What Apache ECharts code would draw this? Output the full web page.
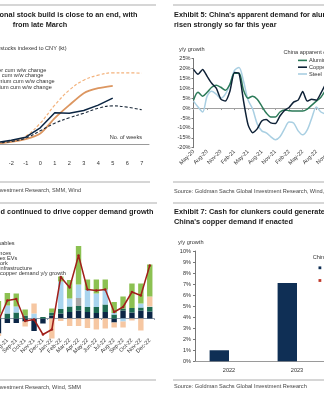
<!DOCTYPE html>
<html>
<head>
<meta charset="utf-8">
<script src="https://cdn.jsdelivr.net/npm/echarts@6/dist/echarts.min.js"></script>
<style>
html,body{margin:0;padding:0;background:#fff;}
#chart{width:324px;height:394px;}
</style>
</head>
<body>
<div id="chart"></div>
<script>
// ---------- Exhibit 4 : cumulative w/w stock change since CNY (kt) ----------
const weeks = ['-3','-2','-1','0','1','2','3','4','5','6','7'];
const cuCum2023 = [6, 13, 22, 50, 95, 94, 102, 118, 139, null, null];
const cuCumAvg  = [4, 9, 19, 41, 64, 80, 94, 109, 116, 112, 104];
const alCum2023 = [3, 8, 16, 33, 79, 118, 154, 169, 176, null, null];
const alCumAvg  = [4, 10, 25, 64, 118, 163, 193, 208, 215, 215, 214];

// ---------- Exhibit 5 : China apparent demand y/y ----------
const months5 = ['May-20','Jun-20','Jul-20','Aug-20','Sep-20','Oct-20','Nov-20','Dec-20','Jan-21','Feb-21','Mar-21','Apr-21',
  'May-21','Jun-21','Jul-21','Aug-21','Sep-21','Oct-21','Nov-21','Dec-21','Jan-22','Feb-22','Mar-22','Apr-22',
  'May-22','Jun-22','Jul-22','Aug-22','Sep-22','Oct-22','Nov-22'];
const aluminium = [4, 8, 6, 8, 10.5, 11.5, 10.5, 9, 12, 17.5, 17.5, 9, 5, 6, 4.5, 1, -2.5, -4.5, -4.5, -2, -1, -1.3, -1.5, -1.5, -1.5, -0.5, 1.5, 3.5, 5.5, 9, null];
const copper    = [19.5, 17, 19.5, 16, 12.5, 10, 4.5, 3.5, 8.5, 18, 17.5, 3.5, -8.5, -12.5, -10.5, -6.5, -5.8, -7.5, -7.8, -4, -1.2, 0.3, 3, 4, 8.3, 3.5, 4.5, 4, 7.5, 12, null];
const steel     = [3.5, 0.5, -2, 6, 8.5, 7, 5, 7, 12, 19, 20.5, 13.5, 4, -0.5, -8, -11.5, -12.5, -14.5, -16, -14.5, -10.5, -7, -7.5, -11.5, -13.5, -11, -5, 0.5, -2, -3, null];

// ---------- Exhibit 6 : contributions to copper demand growth ----------
const months6 = ['Jul-21','Aug-21','Sep-21','Oct-21','Nov-21','Dec-21','Jan-22','Feb-22','Mar-22','Apr-22','May-22','Jun-22',
  'Jul-22','Aug-22','Sep-22','Oct-22','Nov-22','Dec-22'];
const infrastructure = [-3.0, -0.9, -0.9, -0.6, -2.5, -1.0, 0.6, 1.0, 1.3, 1.6, 1.3, 1.1, 1.3, -0.8, 1.6, 1.2, 1.6, 1.4];
const gridWork       = [0.5, 1.0, 1.2, 0.6, 0, 0.3, 0.6, 0.9, 1.1, 0.9, 1.0, 1.2, 1.5, 0.8, 0.4, 0.9, 0.6, 0.9];
const evs            = [0, 0, 0, 0, 0, 0, 0, 0, 0, 1.6, 0, 0, 0, 0, 0, 0, 0, 0];
const autosExEv      = [0.5, 1.6, 1.2, 0, 1.0, 0, 0, 5.5, 1.6, 2.7, 3.4, 2.7, 3.0, 0.3, -0.6, 0, 0.8, 0.1];
const appliances     = [-0.5, 0, 0, -1.0, 2.0, 0, -4.0, -0.5, -1.5, -1.5, -1.9, -2.2, -2.0, -1.0, -1.2, -0.4, -2.4, 2.0];
const renewables     = [2.5, 2.5, 2.6, 1.2, 0, 0, 0.8, 1.0, 3.7, 7.7, 2.1, 2.8, 2.0, 2.2, 2.4, 4.9, 4.0, 6.4];
const demandGrowth   = [-0.5, 3.6, 3.9, -0.5, -0.2, -3.2, -2.2, 8.3, 6.2, 12.6, 5.8, 5.6, 5.8, 1.3, 2.3, 5.3, 4.6, 10.6];

// ---------- Exhibit 7 : cash for clunkers ----------
const years7 = ['2022', '2023'];
const baseGrowth = [1.0, 7.1];
const clunkerUplift = [null, null];

const FONT = '"Liberation Sans", Arial, sans-serif';
const SMALL = 5.6;
const TSCALE = 0.915;

function txt(x, y, s, opt) {
  opt = opt || {};
  const align = opt.align || 'left';
  return {
    type: 'text', x: x, y: y, scaleX: opt.scaleX || 1, silent: true,
    style: {
      text: s, x: 0, y: 0,
      fontSize: opt.size || 6, fontWeight: opt.bold ? 'bold' : 'normal', fontFamily: FONT,
      fill: opt.color || '#333',
      textAlign: align, align: align, textVerticalAlign: 'middle', verticalAlign: 'middle'
    }
  };
}
function title(x, y, s, align) { return txt(x, y, s, {bold: true, size: 8, color: '#1b1b1b', align: align, scaleX: TSCALE}); }
function rule(x1, y, x2) {
  return {type: 'line', silent: true, shape: {x1: x1, y1: y, x2: x2, y2: y}, style: {stroke: '#c8c8c8', lineWidth: 1.5}};
}
function small(x, y, s, align, color) { return txt(x, y, s, {size: SMALL, align: align, color: color || '#333'}); }

const graphics = [
  // separators
  rule(0, 5, 156), rule(173, 5, 324), rule(0, 182, 150), rule(173, 182, 324),
  rule(0, 203, 157), rule(173, 203, 324), rule(0, 380, 156), rule(173, 380, 324),
  // Exhibit 4 texts
  title(137.5, 15, 'Exhibit 4: Seasonal stock build is close to an end, with', 'right'),
  title(12.7, 25, 'from late March', 'left'),
  small(66.5, 48, 'Visible stocks indexed to CNY (kt)', 'right'),
  small(-28, 70, '2023 copper cum w/w change'),
  small(-28, 75.6, 'Avg copper cum w/w change'),
  small(-28, 81.3, '2023 aluminium cum w/w change'),
  small(-28, 87, 'Avg aluminium cum w/w change'),
  small(142, 137, 'No. of weeks', 'right'),
  small(81, 190, 'Source: Goldman Sachs Global Investment Research, SMM, Wind', 'right', '#444'),
  // Exhibit 5 texts
  title(174, 15, "Exhibit 5: China's apparent demand for aluminium and copper has"),
  title(174, 25, 'risen strongly so far this year'),
  small(179, 49.3, 'y/y growth'),
  small(283.5, 52.5, 'China apparent demand'),
  small(174, 191, 'Source: Goldman Sachs Global Investment Research, Wind, SMM', 'left', '#444'),
  // Exhibit 6 texts
  title(153.5, 212, 'Exhibit 6: Green demand continued to drive copper demand growth', 'right'),
  small(-16.2, 243, 'Renewables'),
  small(-16.2, 248.1, 'EVs'),
  small(-16.2, 253.2, 'Appliances'),
  small(-16.2, 258.3, 'Autos ex EVs'),
  small(-16.2, 263.4, 'Grid work'),
  small(-16.2, 268.5, 'Other infrastructure'),
  small(-16.2, 273.6, 'China copper demand y/y growth'),
  small(81, 387, 'Source: Goldman Sachs Global Investment Research, Wind, SMM', 'right', '#444'),
  // Exhibit 7 texts
  title(174, 212, 'Exhibit 7: Cash for clunkers could generate a sizeable boost to'),
  title(174, 222, "China's copper demand if enacted"),
  small(178, 242.5, 'y/y growth'),
  small(312.7, 257.7, 'China copper demand'),
  small(174, 386, 'Source: Goldman Sachs Global Investment Research', 'left', '#444')
];

const axisLabelBase = {fontSize: SMALL, fontFamily: FONT, color: '#333'};

const option = {
  animation: false,
  backgroundColor: '#fff',
  textStyle: {fontFamily: FONT},
  graphic: {elements: graphics},
  legend: [
    {
      data: ['Aluminium', 'Copper', 'Steel'], orient: 'vertical', left: 298, top: 57.4,
      icon: 'rect', itemWidth: 9, itemHeight: 1.6, itemGap: 0.8, padding: 0,
      textStyle: {fontSize: SMALL, fontFamily: FONT, color: '#333', padding: [0, 0, 0, -3]}
    },
    {
      data: ['China copper demand growth', 'Cash for clunkers uplift'], orient: 'vertical', left: 318.5, top: 264.8,
      icon: 'rect', itemWidth: 2.8, itemHeight: 2.8, itemGap: 6.7, padding: 0,
      textStyle: {fontSize: SMALL, fontFamily: FONT, color: '#333'}
    }
  ],
  grid: [
    {left: -10.5, top: 44.5, width: 159.5, height: 100, outerBoundsMode: 'none', containLabel: false},
    {left: 193.5, top: 58.5, width: 136.5, height: 89.2, outerBoundsMode: 'none', containLabel: false},
    {left: -6, top: 238.5, width: 160.2, height: 100, outerBoundsMode: 'none', containLabel: false},
    {left: 195, top: 251, width: 136, height: 110.3, outerBoundsMode: 'none', containLabel: false}
  ],
  xAxis: [
    {gridIndex: 0, type: 'category', data: weeks, boundaryGap: true,
     axisLine: {lineStyle: {color: '#9a9a9a', width: 1}},
     axisTick: {inside: true, length: 2.5, lineStyle: {color: '#9a9a9a'}},
     axisLabel: Object.assign({margin: 16}, axisLabelBase)},
    {gridIndex: 1, type: 'category', data: months5, boundaryGap: false, position: 'bottom',
     axisLine: {show: false, onZero: false}, axisTick: {show: false},
     axisLabel: Object.assign({rotate: 45, interval: 2, margin: 3}, axisLabelBase)},
    {gridIndex: 1, type: 'category', data: months5, boundaryGap: false, position: 'top',
     axisLine: {onZero: true, lineStyle: {color: '#a0a0a0', width: 1}},
     axisTick: {show: true, interval: 2, length: 2, inside: true, lineStyle: {color: '#a0a0a0'}},
     axisLabel: {show: false}},
    {gridIndex: 2, type: 'category', data: months6, boundaryGap: true, position: 'bottom',
     axisLine: {show: false, onZero: false}, axisTick: {show: false},
     axisLabel: Object.assign({rotate: 45, interval: 0, margin: 1}, axisLabelBase)},
    {gridIndex: 2, type: 'category', data: months6, boundaryGap: true, position: 'top',
     axisLine: {onZero: true, lineStyle: {color: '#8e9aab', width: 1}},
     axisTick: {show: true, length: 1.5, inside: true, lineStyle: {color: '#8e9aab'}},
     axisLabel: {show: false}},
    {gridIndex: 3, type: 'category', data: years7, boundaryGap: true,
     axisLine: {lineStyle: {color: '#9a9a9a', width: 1}},
     axisTick: {length: 2, lineStyle: {color: '#9a9a9a'}},
     axisLabel: Object.assign({margin: 6}, axisLabelBase)}
  ],
  yAxis: [
    {gridIndex: 0, type: 'value', min: 0, max: 300, show: false},
    {gridIndex: 1, type: 'value', min: -20, max: 25, interval: 5,
     axisLine: {show: true, lineStyle: {color: '#777', width: 1}},
     axisTick: {show: true, length: 2, lineStyle: {color: '#777'}},
     splitLine: {show: false},
     axisLabel: Object.assign({margin: 3, formatter: '{value}%'}, axisLabelBase)},
    {gridIndex: 2, type: 'value', min: -4, max: 16, show: false},
    {gridIndex: 3, type: 'value', min: 0, max: 10, interval: 1,
     axisLine: {show: true, lineStyle: {color: '#777', width: 1}},
     axisTick: {show: true, length: 2, lineStyle: {color: '#777'}},
     splitLine: {show: false},
     axisLabel: Object.assign({margin: 4, formatter: '{value}%'}, axisLabelBase)}
  ],
  series: [
    // Exhibit 4
    {name: 'Avg aluminium cum w/w change', type: 'line', xAxisIndex: 0, yAxisIndex: 0, data: alCumAvg,
     smooth: 0.4, showSymbol: false, lineStyle: {color: '#f3b27c', width: 1.2, type: [3, 2]}},
    {name: '2023 aluminium cum w/w change', type: 'line', xAxisIndex: 0, yAxisIndex: 0, data: alCum2023,
     smooth: 0.2, showSymbol: false, lineStyle: {color: '#dc9660', width: 1.8}},
    {name: 'Avg copper cum w/w change', type: 'line', xAxisIndex: 0, yAxisIndex: 0, data: cuCumAvg,
     smooth: 0.4, showSymbol: false, lineStyle: {color: '#1c2a3a', width: 1.1, type: [3, 2]}},
    {name: '2023 copper cum w/w change', type: 'line', xAxisIndex: 0, yAxisIndex: 0, data: cuCum2023,
     smooth: false, showSymbol: false, lineStyle: {color: '#0b2542', width: 1.5}},
    // Exhibit 5
    {name: 'Steel', type: 'line', xAxisIndex: 1, yAxisIndex: 1, data: steel,
     smooth: 0.3, showSymbol: false, lineStyle: {color: '#a9cfe2', width: 1.5}, itemStyle: {color: '#a9cfe2'}},
    {name: 'Aluminium', type: 'line', xAxisIndex: 1, yAxisIndex: 1, data: aluminium,
     smooth: 0.3, showSymbol: false, lineStyle: {color: '#2b7a58', width: 1.5}, itemStyle: {color: '#2b7a58'}},
    {name: 'Copper', type: 'line', xAxisIndex: 1, yAxisIndex: 1, data: copper,
     smooth: 0.2, showSymbol: false, lineStyle: {color: '#0e2136', width: 1.5}, itemStyle: {color: '#0e2136'}},
    // Exhibit 6
    {name: 'Other infrastructure', type: 'bar', stack: 'c', xAxisIndex: 3, yAxisIndex: 2, data: infrastructure, barWidth: 5.4, itemStyle: {color: '#0c2646'}},
    {name: 'Grid work', type: 'bar', stack: 'c', xAxisIndex: 3, yAxisIndex: 2, data: gridWork, barWidth: 5.4, itemStyle: {color: '#1e6b52'}},
    {name: 'EVs', type: 'bar', stack: 'c', xAxisIndex: 3, yAxisIndex: 2, data: evs, barWidth: 5.4, itemStyle: {color: '#a8a8a8'}},
    {name: 'Autos ex EVs', type: 'bar', stack: 'c', xAxisIndex: 3, yAxisIndex: 2, data: autosExEv, barWidth: 5.4, itemStyle: {color: '#a9d4ee'}},
    {name: 'Appliances', type: 'bar', stack: 'c', xAxisIndex: 3, yAxisIndex: 2, data: appliances, barWidth: 5.4, itemStyle: {color: '#f6c7a2'}},
    {name: 'Renewables', type: 'bar', stack: 'c', xAxisIndex: 3, yAxisIndex: 2, data: renewables, barWidth: 5.4, itemStyle: {color: '#8cc152'}},
    {name: 'China copper demand y/y growth', type: 'line', xAxisIndex: 3, yAxisIndex: 2, data: demandGrowth,
     symbol: 'circle', symbolSize: 2.5, lineStyle: {color: '#a11f1a', width: 1.5}, itemStyle: {color: '#a11f1a'}},
    // Exhibit 7
    {name: 'China copper demand growth', type: 'bar', xAxisIndex: 5, yAxisIndex: 3, data: baseGrowth,
     barWidth: 19.4, barGap: '0%', itemStyle: {color: '#0f2f55'}},
    {name: 'Cash for clunkers uplift', type: 'bar', xAxisIndex: 5, yAxisIndex: 3, data: clunkerUplift,
     barWidth: 19.4, barGap: '0%', itemStyle: {color: '#c0392b'}}
  ]
};

const chart = echarts.init(document.getElementById('chart'), null, {renderer: 'canvas', width: 324, height: 394});
chart.setOption(option);
</script>
</body>
</html>
